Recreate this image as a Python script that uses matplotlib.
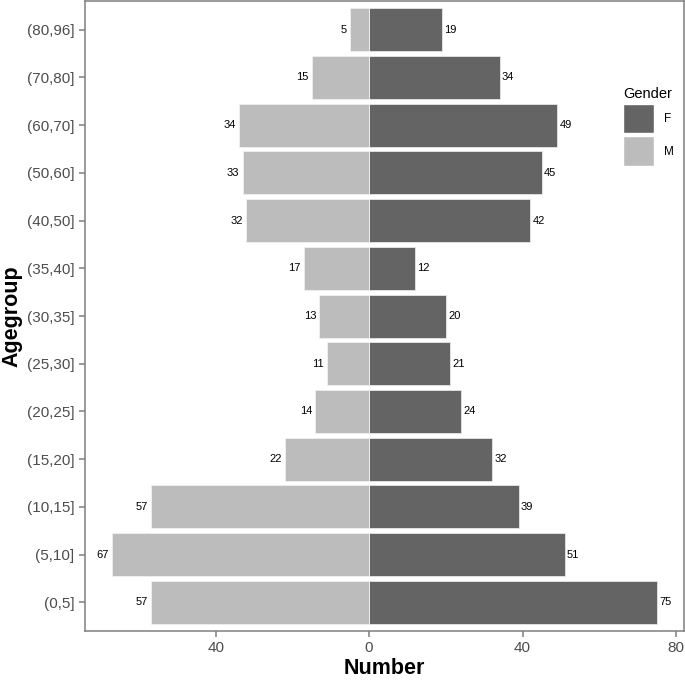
import matplotlib
matplotlib.use("Agg")
import matplotlib.pyplot as plt
from matplotlib.patches import Patch
import numpy as np

plt.rcParams['font.family'] = ['Liberation Sans', 'DejaVu Sans']

# age groups, bottom to top
agegroups = ['(0,5]', '(5,10]', '(10,15]', '(15,20]', '(20,25]', '(25,30]', '(30,35]',
             '(35,40]', '(40,50]', '(50,60]', '(60,70]', '(70,80]', '(80,96]']
female = [75, 51, 39, 32, 24, 21, 20, 12, 42, 45, 49, 34, 19]
male = [57, 67, 57, 22, 14, 11, 13, 17, 32, 33, 34, 15, 5]
xticks = [-40, 0, 40, 80]
xticklabels = ['40', '0', '40', '80']

colF = '#646464'
colM = '#bcbcbc'
axcol = '#7f7f7f'

fig = plt.figure(figsize=(6.85, 6.8), dpi=100)
ax = fig.add_axes([0.124, 0.072, 0.8745, 0.9265])

y = np.arange(len(agegroups))
ax.barh(y, female, height=0.9, color=colF, edgecolor='#e6e6e6', linewidth=0.6)
ax.barh(y, [-m for m in male], height=0.9, color=colM, edgecolor='#f0f0f0', linewidth=0.6)

# value labels
for yi, f, m in zip(y, female, male):
    ax.text(f + 0.6, yi, str(f), ha='left', va='center', fontsize=8, color='black')
    ax.text(-m - 0.8, yi, str(m), ha='right', va='center', fontsize=8, color='black')

lo = -max(male)
hi = max(female)
pad = (hi - lo) * 0.05
ax.set_xlim(lo - pad, hi + pad)
ax.set_ylim(-0.6, len(agegroups) - 0.4)

ax.set_xticks(xticks)
ax.set_xticklabels(xticklabels)
ax.set_yticks(y)
ax.set_yticklabels(agegroups)
ax.tick_params(axis='both', colors=axcol, labelcolor='#4d4d4d', labelsize=11,
               length=4, width=1.1, direction='out')
ax.tick_params(axis='x', pad=3)
for s in ax.spines.values():
    s.set_color(axcol)
    s.set_linewidth(1.1)

ax.set_xlabel('Number', fontsize=15.5, fontweight='bold', labelpad=2)
ax.set_ylabel('Agegroup', fontsize=15.5, fontweight='bold', labelpad=3)

handles = [Patch(facecolor=colF, edgecolor='white', label='F'),
           Patch(facecolor=colM, edgecolor='white', label='M')]
leg = ax.legend(handles=handles, title='Gender', loc='upper left',
                bbox_to_anchor=(0.899, 0.864), frameon=False, fontsize=8.5,
                title_fontsize=10.5, handlelength=2.55, handleheight=3.5,
                handletextpad=0.9, labelspacing=0.25, borderaxespad=0, borderpad=0)
leg._legend_box.align = 'left'

fig.savefig('out.png', dpi=100)
